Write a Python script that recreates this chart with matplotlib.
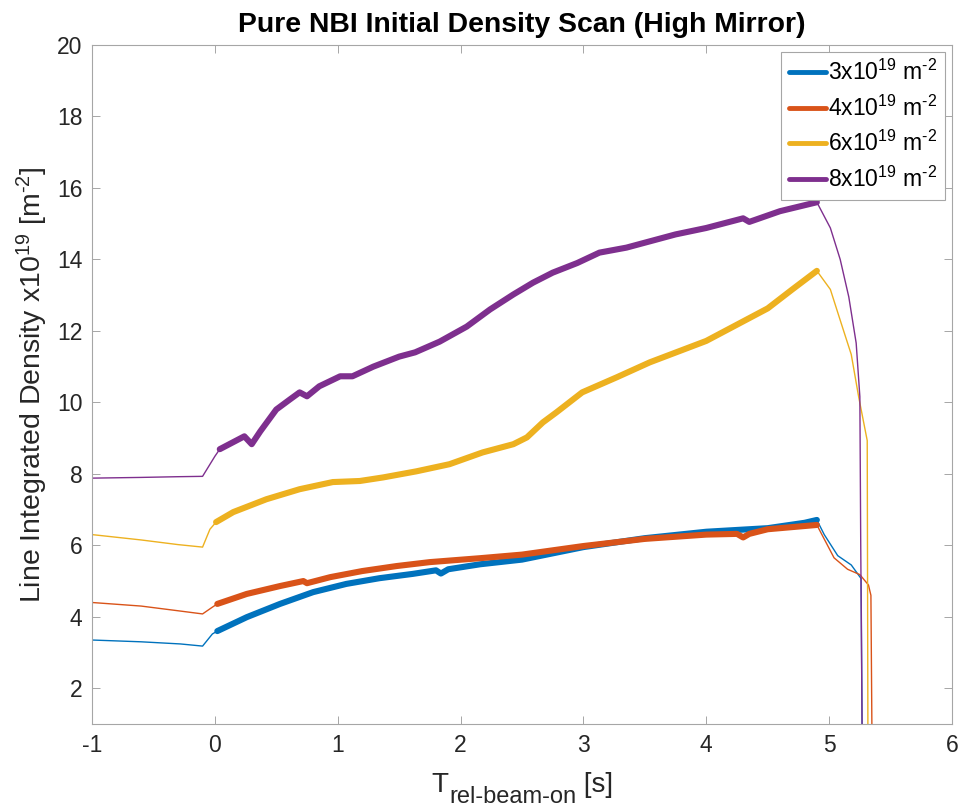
import matplotlib
matplotlib.use("Agg")
import matplotlib.pyplot as plt
import numpy as np

plt.rcParams['font.family'] = ['Liberation Sans', 'DejaVu Sans']
plt.rcParams['mathtext.fontset'] = 'custom'
plt.rcParams['mathtext.rm'] = 'Liberation Sans'
plt.rcParams['mathtext.it'] = 'Liberation Sans:italic'
plt.rcParams['mathtext.bf'] = 'Liberation Sans:bold'
plt.rcParams['axes.unicode_minus'] = False

title = "Pure NBI Initial Density Scan (High Mirror)"
labels = [r"3x10$^{19}$ m$^{\text{-}2}$", r"4x10$^{19}$ m$^{\text{-}2}$",
          r"6x10$^{19}$ m$^{\text{-}2}$", r"8x10$^{19}$ m$^{\text{-}2}$"]
ylabel = r"Line Integrated Density x10$^{19}$ [m$^{\text{-}2}$]"
xlabel_main, xlabel_sub, xlabel_unit = "T", "rel-beam-on", " [s]"
colors = ["#0072BD", "#D95319", "#EDB120", "#7E2F8E"]

# Series: time [s], line-integrated density [1e19 m^-2]
t_3 = [-1.0, -0.6, -0.28, -0.1, -0.02, 0.02, 0.26, 0.53, 0.8, 1.07, 1.34, 1.61, 1.8, 1.84, 1.9,
       2.16, 2.5, 3.0, 3.5, 4.0, 4.5, 4.8, 4.9, 4.96, 5.07, 5.18, 5.26, 5.27]
d_3 = [3.35, 3.3, 3.24, 3.18, 3.52, 3.6, 3.99, 4.36, 4.69, 4.92, 5.08, 5.2, 5.3, 5.21, 5.33,
       5.47, 5.6, 5.95, 6.2, 6.38, 6.48, 6.63, 6.71, 6.3, 5.71, 5.45, 5.07, 0.0]

t_4 = [-1.0, -0.6, -0.28, -0.1, -0.02, 0.02, 0.26, 0.53, 0.72, 0.75, 0.94, 1.2, 1.48, 1.75, 2.16,
       2.5, 3.0, 3.5, 4.0, 4.25, 4.3, 4.35, 4.5, 4.9, 5.04, 5.15, 5.25, 5.32, 5.34, 5.35]
d_4 = [4.4, 4.3, 4.16, 4.08, 4.27, 4.36, 4.64, 4.86, 5.0, 4.94, 5.11, 5.28, 5.42, 5.53, 5.64,
       5.74, 5.98, 6.18, 6.3, 6.32, 6.22, 6.32, 6.45, 6.57, 5.65, 5.33, 5.18, 4.89, 4.6, 0.0]

t_6 = [-1.0, -0.6, -0.3, -0.1, -0.04, 0.01, 0.15, 0.42, 0.69, 0.96, 1.18, 1.37, 1.64, 1.91, 2.18,
       2.43, 2.54, 2.67, 2.78, 2.99, 3.27, 3.54, 4.0, 4.5, 4.7, 4.9, 5.01, 5.09, 5.18, 5.24,
       5.31, 5.316]
d_6 = [6.3, 6.15, 6.02, 5.95, 6.45, 6.65, 6.93, 7.29, 7.57, 7.77, 7.8, 7.9, 8.07, 8.27, 8.6,
       8.83, 9.02, 9.44, 9.72, 10.28, 10.7, 11.12, 11.72, 12.63, 13.16, 13.68, 13.16, 12.3, 11.34, 10.16,
       8.93, 0.0]

t_8 = [-1.0, -0.6, -0.3, -0.1, 0.0, 0.04, 0.24, 0.3, 0.37, 0.5, 0.61, 0.69, 0.75, 0.85, 1.02,
       1.12, 1.29, 1.5, 1.63, 1.83, 2.05, 2.24, 2.43, 2.59, 2.75, 2.95, 3.13, 3.35, 3.75, 4.0,
       4.3, 4.35, 4.6, 4.9, 5.01, 5.09, 5.16, 5.22, 5.25, 5.257, 5.27]
d_8 = [7.88, 7.9, 7.92, 7.93, 8.49, 8.69, 9.05, 8.83, 9.19, 9.8, 10.08, 10.28, 10.17, 10.45, 10.73,
       10.73, 11.0, 11.28, 11.4, 11.7, 12.12, 12.6, 13.02, 13.35, 13.63, 13.9, 14.19, 14.33, 14.7, 14.88,
       15.15, 15.05, 15.35, 15.6, 14.88, 14.0, 12.95, 11.66, 10.16, 6.1, 0.0]

beam_on = [0.02, 0.02, 0.01, 0.04]
beam_off = [4.9, 4.9, 4.9, 4.9]

series_t = [t_3, t_4, t_6, t_8]
series_d = [d_3, d_4, d_6, d_8]

W, H = 962, 808
fig = plt.figure(figsize=(W / 100, H / 100), dpi=100)
ax = fig.add_axes([92 / W, 1 - 724 / H, (952 - 92) / W, (724 - 45) / H])

for t, d, c, lab, on, off in zip(series_t, series_d, colors, labels, beam_on, beam_off):
    t = np.array(t); d = np.array(d)
    pre = t <= on
    mid = (t >= on) & (t <= off)
    post = t >= off
    ax.plot(t[pre], d[pre], color=c, lw=1.0)
    ax.plot(t[mid], d[mid], color=c, lw=4.4, label=lab, solid_joinstyle='round',
            solid_capstyle='round')
    ax.plot(t[post], d[post], color=c, lw=1.0)

ax.set_xlim(-1, 6)
ax.set_ylim(1, 20)
ax.set_xticks(range(-1, 7))
ax.set_yticks(range(2, 21, 2))
ax.tick_params(direction='in', top=True, right=True, labelsize=16.5, labelcolor='#262626',
               color='#A6A6A6', length=6, width=0.7, pad=7)
for sp in ax.spines.values():
    sp.set_color('#A6A6A6')
    sp.set_linewidth(0.8)

ax.set_title(title, fontsize=20.4, fontweight='bold', pad=9)
ax.set_ylabel(ylabel, fontsize=20.5, color='#262626', labelpad=5)

# x label with large subscript, built from pieces
fig.canvas.draw()
r = fig.canvas.get_renderer()
base_y = H - 792
t1 = fig.text(0, 0, xlabel_main, fontsize=20, color='#262626', transform=None, va='baseline')
t2 = fig.text(0, 0, xlabel_sub, fontsize=17, color='#262626', transform=None, va='baseline')
t3 = fig.text(0, 0, xlabel_unit, fontsize=20, color='#262626', transform=None, va='baseline')
w1 = t1.get_window_extent(r).width
w2 = t2.get_window_extent(r).width
w3 = t3.get_window_extent(r).width
total = w1 + w2 + w3
x0 = (92 + 952) / 2 - total / 2
t1.set_position((x0, base_y))
t2.set_position((x0 + w1 + 1, base_y - 11))
t3.set_position((x0 + w1 + w2 + 1, base_y))

leg = ax.legend(loc='upper right', fontsize=16.5, frameon=True, fancybox=False,
                handlelength=1.6, handletextpad=0.1, borderpad=0.35, labelspacing=0.45,
                borderaxespad=0.3, framealpha=1)
leg.get_frame().set_edgecolor('#A6A6A6')
leg.get_frame().set_linewidth(0.8)
for line in leg.get_lines():
    line.set_linewidth(3.5)

fig.savefig("out.png", dpi=100, facecolor='white')
